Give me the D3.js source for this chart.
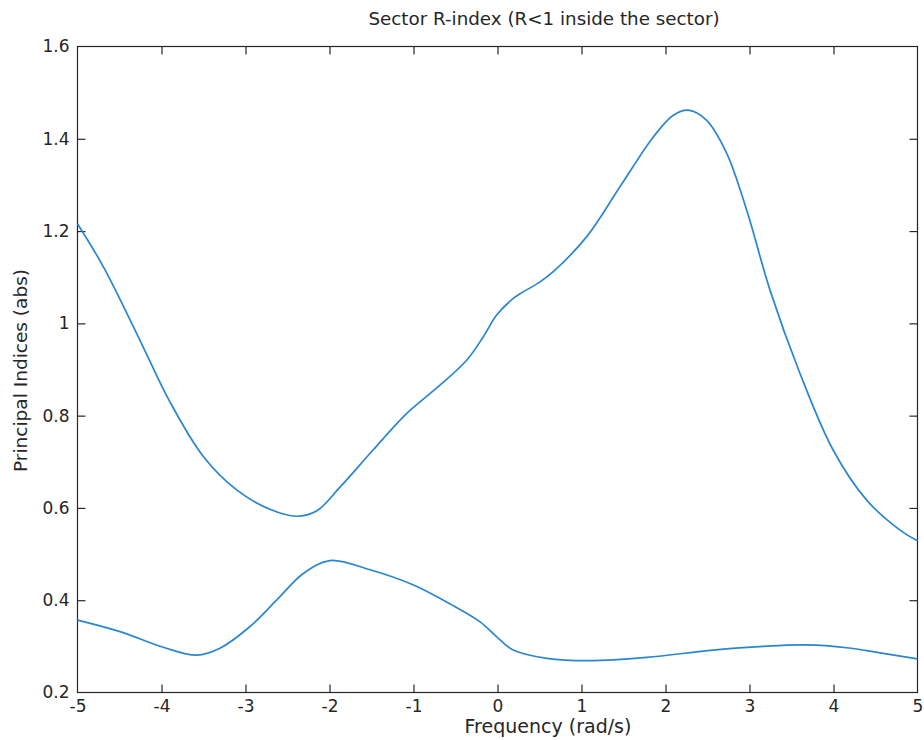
<!DOCTYPE html>
<html>
<head>
<meta charset="utf-8">
<script src="https://cdn.jsdelivr.net/npm/d3@7"></script>
<style>
  html, body { margin: 0; padding: 0; background: #fff; }
  text { font-family: "DejaVu Sans", sans-serif; fill: #262626; }
</style>
</head>
<body>
<svg id="chart" width="924" height="740"></svg>
<script>
// ---- data ----
const upperFreq = [-5, -4.69, -4.295, -3.90, -3.50, -3.105, -2.71, -2.39, -2.15, -1.875, -1.479, -1.08, -0.685, -0.367, -0.169, -0.01, 0.188, 0.268, 0.506, 0.664, 1.062, 1.458, 1.855, 2.093, 2.271, 2.49, 2.73, 2.967, 3.244, 3.60, 3.997, 4.395, 4.792, 5];
const upperIdx  = [1.216, 1.122, 0.978, 0.830, 0.711, 0.639, 0.597, 0.582, 0.594, 0.645, 0.726, 0.805, 0.866, 0.920, 0.971, 1.018, 1.054, 1.064, 1.090, 1.112, 1.188, 1.296, 1.404, 1.451, 1.462, 1.440, 1.368, 1.245, 1.072, 0.892, 0.725, 0.617, 0.552, 0.529];
const lowerFreq = [-5, -4.494, -3.979, -3.58, -3.304, -2.946, -2.63, -2.312, -1.994, -1.518, -1.0, -0.526, -0.208, 0.03, 0.188, 0.586, 1.101, 1.776, 2.569, 3.164, 3.68, 4.157, 4.554, 5];
const lowerIdx  = [0.357, 0.332, 0.298, 0.281, 0.296, 0.343, 0.400, 0.458, 0.486, 0.466, 0.433, 0.388, 0.353, 0.314, 0.292, 0.274, 0.269, 0.276, 0.292, 0.300, 0.303, 0.297, 0.286, 0.273];
const xTicks = [-5, -4, -3, -2, -1, 0, 1, 2, 3, 4, 5];
const yTicks = [0.2, 0.4, 0.6, 0.8, 1, 1.2, 1.4, 1.6];
const titleText = "Sector R-index (R<1 inside the sector)";
const xLabelText = "Frequency (rad/s)";
const yLabelText = "Principal Indices (abs)";

// ---- layout ----
const svg = d3.select("#chart");
const L = 77.5, R = 917.5, T = 46.5, B = 692.5;
const x = d3.scaleLinear().domain([-5, 5]).range([L, R]);
const y = d3.scaleLinear().domain([0.2, 1.6]).range([B, T]);
const axisColor = "#262626";
const tickLen = 8;

// box
svg.append("rect")
  .attr("x", L).attr("y", T).attr("width", R - L).attr("height", B - T)
  .attr("fill", "none").attr("stroke", axisColor).attr("stroke-width", 1.2);

// axes with inward ticks
const fmt = d => String(d);
const xb = svg.append("g").attr("transform", `translate(0,${B})`)
  .call(d3.axisBottom(x).tickValues(xTicks).tickFormat(fmt).tickSizeInner(-tickLen).tickSizeOuter(0).tickPadding(5));
const xt = svg.append("g").attr("transform", `translate(0,${T})`)
  .call(d3.axisTop(x).tickValues(xTicks).tickFormat("").tickSizeInner(-tickLen).tickSizeOuter(0));
const yl = svg.append("g").attr("transform", `translate(${L},0)`)
  .call(d3.axisLeft(y).tickValues(yTicks).tickFormat(fmt).tickSizeInner(-tickLen).tickSizeOuter(0).tickPadding(7));
const yr = svg.append("g").attr("transform", `translate(${R},0)`)
  .call(d3.axisRight(y).tickValues(yTicks).tickFormat("").tickSizeInner(-tickLen).tickSizeOuter(0));

[xb, xt, yl, yr].forEach(g => {
  g.select(".domain").remove();
  g.selectAll(".tick line").attr("stroke", axisColor).attr("stroke-width", 1.2);
  g.selectAll(".tick text").attr("fill", axisColor)
    .style("font-family", "'DejaVu Sans', sans-serif").style("font-size", "17px");
});
xb.selectAll(".tick text").attr("dy", "0.71em").attr("y", 7);
yl.selectAll(".tick text").attr("x", -8);
// hide end ticks (they coincide with box)
[xb, xt].forEach(g => g.selectAll(".tick line").filter(d => d === -5 || d === 5).remove());
[yl, yr].forEach(g => g.selectAll(".tick line").filter(d => d === 0.2 || d === 1.6).remove());

// curves
const line = d3.line().x(d => x(d[0])).y(d => y(d[1])).curve(d3.curveCatmullRom.alpha(0.5));
const series = [d3.zip(upperFreq, upperIdx), d3.zip(lowerFreq, lowerIdx)];
svg.append("g").selectAll("path").data(series).join("path")
  .attr("d", line)
  .attr("fill", "none")
  .attr("stroke", "#2a86d0")
  .attr("stroke-width", 1.7);

// texts
svg.append("text").attr("x", 544).attr("y", 25).attr("text-anchor", "middle")
  .style("font-size", "18.3px").text(titleText);
svg.append("text").attr("x", 548).attr("y", 733).attr("text-anchor", "middle")
  .style("font-size", "19px").text(xLabelText);
svg.append("text").attr("transform", `translate(27,${(T + B) / 2 + 1}) rotate(-90)`)
  .attr("text-anchor", "middle").style("font-size", "18.5px").text(yLabelText);
</script>
</body>
</html>
